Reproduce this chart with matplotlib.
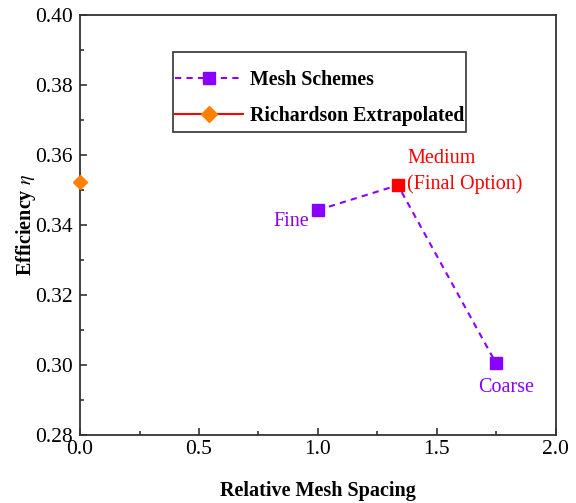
import matplotlib.pyplot as plt
from matplotlib.lines import Line2D
from matplotlib.patches import Rectangle

plt.rcParams['font.family'] = ['Liberation Serif', 'DejaVu Serif']
plt.rcParams['mathtext.fontset'] = 'stix'

# mesh study data
spacing = [1.0, 1.336, 1.748]
eff = [0.3443, 0.3514, 0.3006]
names = ['Fine', 'Medium\n(Final Option)', 'Coarse']
rich_x = [0.0]
rich_y = [0.3523]

purple = '#8A00FF'
orange = '#FF8000'

fig = plt.figure(figsize=(5.76, 5.03), dpi=100)
ax = fig.add_axes([0.139, 0.135, 0.826, 0.835])

ax.plot(spacing, eff, ls='--', color=purple, lw=1.5, dashes=(3, 2.5), zorder=2)
ax.plot(spacing[0::2], eff[0::2], ls='none', marker='s', ms=8, color=purple, zorder=3)
ax.plot(spacing[1], eff[1], ls='none', marker='s', ms=8, color='red', zorder=3)
ax.plot(rich_x, rich_y, ls='none', marker='D', ms=7.5, color=orange, clip_on=False, zorder=4)

ax.text(spacing[0] - 0.035, eff[0] - 0.0005, names[0], color=purple, fontsize=14.5,
        ha='right', va='top')
ax.text(spacing[1] + 0.04, 0.3553, names[1], color='red', fontsize=14.5,
        ha='left', va='center', linespacing=1.4)
ax.text(spacing[2] + 0.045, eff[2] - 0.0042, names[2], color=purple, fontsize=14.5,
        ha='center', va='top')

ax.set_xlim(0, 2.0)
ax.set_ylim(0.28, 0.40)
ax.set_xticks([0, 0.5, 1.0, 1.5, 2.0])
ax.set_xticks([0.25, 0.75, 1.25, 1.75], minor=True)
ax.set_yticks([0.28, 0.30, 0.32, 0.34, 0.36, 0.38, 0.40])
ax.set_yticks([0.29, 0.31, 0.33, 0.35, 0.37, 0.39], minor=True)
ax.xaxis.set_major_formatter(plt.FormatStrFormatter('%.1f'))
ax.yaxis.set_major_formatter(plt.FormatStrFormatter('%.2f'))
ax.tick_params(which='both', direction='in', labelsize=15.5, width=1.2, color='#333333')
ax.tick_params(which='major', length=5)
ax.tick_params(which='minor', length=3)
ax.tick_params(axis='y', pad=5)
for s in ax.spines.values():
    s.set_linewidth(1.3)
    s.set_color('#333333')

ax.set_xlabel('Relative Mesh Spacing', fontsize=14.5, fontweight='bold', labelpad=16)
ax.set_ylabel(r'Efficiency $\eta$', fontsize=14.5, fontweight='bold', labelpad=-2)

handles = [
    Line2D([], [], ls='--', dashes=(3, 2.5), color=purple, lw=1.5, marker='s', ms=8),
    Line2D([], [], ls='-', color='red', lw=1.5, marker='D', ms=8, mfc=orange, mec=orange),
]
leg = ax.legend(handles, ['Mesh Schemes', 'Richardson Extrapolated'],
                loc='upper left', bbox_to_anchor=(0.2, 0.870),
                prop={'weight': 'bold', 'size': 14.3}, frameon=False,
                borderpad=0, borderaxespad=0, labelspacing=0.8,
                handlelength=3.4, handletextpad=0.35)
ax.add_patch(Rectangle((0.195, 0.721), 0.616, 0.191, transform=ax.transAxes,
                       fill=False, edgecolor='#333333', lw=1.2, zorder=5))

fig.savefig('out.png', dpi=100)
